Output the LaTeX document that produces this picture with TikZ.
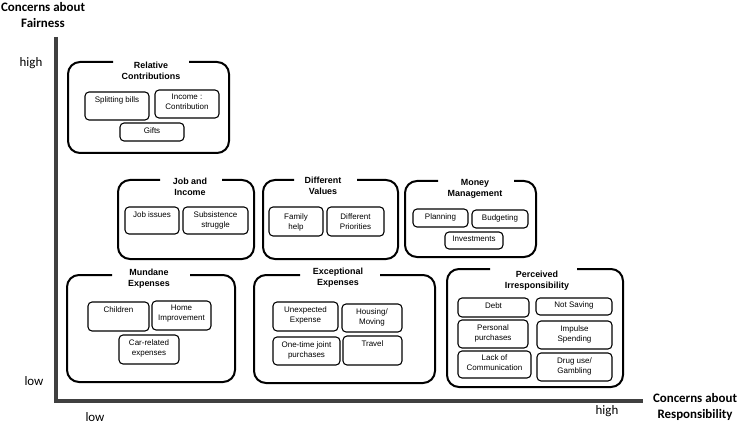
\documentclass[tikz,border=0pt]{standalone}
\usepackage{fontspec}
\setmainfont{Liberation Sans}
\newfontfamily\axisfont{Carlito}
\usetikzlibrary{positioning,calc}

\definecolor{axisgray}{gray}{0.25}

\begin{document}
\begin{tikzpicture}[x=0.75pt,y=-0.75pt,
    group/.style={line width=1.5pt,rounded corners=9pt},
    ibox/.style={line width=0.8pt,rounded corners=3pt},
    gtitle/.style={align=center,font=\bfseries\fontsize{6.7}{8.2}\selectfont,inner sep=0pt},
    itxt/.style={anchor=north,align=center,font=\fontsize{6}{7.5}\selectfont,inner sep=3pt},
    axlabel/.style={align=center,font=\axisfont\bfseries\fontsize{9.7}{12}\selectfont,inner sep=0pt},
    tick/.style={font=\axisfont\fontsize{9.7}{12}\selectfont,inner sep=0pt}]

    \useasboundingbox (0,0) rectangle (742,424);

    % axes
    \coordinate (O) at (56,401);
    \coordinate (Ytop) at (56,37);
    \coordinate (Xend) at (643,401);
    \draw[line width=3pt,axisgray,line join=miter] (Ytop) -- (O) -- (Xend);

    \node[axlabel] (fairness) at (43,15) {Concerns about\\Fairness};
    \node[axlabel] (resp) at (695,407) {Concerns about\\Responsibility};
    \node[tick] (yhigh) at (31,63) {high};
    \node[tick] (ylow) at (34,381) {low};
    \node[tick] (xlow) at (95,417) {low};
    \node[tick] (xhigh) at (607,411) {high};

    % relative contributions
    \draw[group] (113,62) -- (68,62) -- (68,153) -- (229,153) -- (229,62) -- (189,62);
    \node[gtitle] (relT) at (151,71) {Relative\\Contributions};
    \draw[ibox] (85,92) rectangle (149,120);
    \node[itxt] (split) at (117,92) {Splitting bills};
    \draw[ibox] (155,90) rectangle (219,118);
    \node[itxt] (income) at (187,90) {Income :\\Contribution};
    \draw[ibox] (120,123) rectangle (184,141);
    \node[itxt] (gifts) at (152,123) {Gifts};

    % job and income
    \draw[group] (160,180) -- (118,180) -- (118,259) -- (254,259) -- (254,180) -- (222,180);
    \node[gtitle] (jobT) at (190,186.5) {Job and\\Income};
    \draw[ibox] (125,207) rectangle (179,234);
    \node[itxt] (jobiss) at (152,207) {Job issues};
    \draw[ibox] (183,207) rectangle (248,234);
    \node[itxt] (subs) at (215.5,207) {Subsistence\\struggle};

    % different values
    \draw[group] (294,180) -- (263,180) -- (263,259) -- (398,259) -- (398,180) -- (357,180);
    \node[gtitle] (valT) at (323,186) {Different\\Values};
    \draw[ibox] (269,207) rectangle (323,236);
    \node[itxt] (family) at (296,209) {Family\\help};
    \draw[ibox] (327,207) rectangle (384,236);
    \node[itxt] (prior) at (355.5,209) {Different\\Priorities};

    % money management
    \draw[group] (438,181) -- (405,181) -- (405,257) -- (536,257) -- (536,181) -- (514,181);
    \node[gtitle] (monT) at (475,188.5) {Money\\Management};
    \draw[ibox] (413,209) rectangle (468,227);
    \node[itxt] (plan) at (440.5,209) {Planning};
    \draw[ibox] (472,210) rectangle (528,228);
    \node[itxt] (budget) at (500,210) {Budgeting};
    \draw[ibox] (445,232) rectangle (503,249);
    \node[itxt] (invest) at (474,232) {Investments};

    % mundane expenses
    \draw[group] (112,275) -- (67,275) -- (67,382) -- (235,382) -- (235,275) -- (190,275);
    \node[gtitle] (munT) at (149,278.5) {Mundane\\Expenses};
    \draw[ibox] (88,302) rectangle (149,331);
    \node[itxt] (child) at (118.5,302) {Children};
    \draw[ibox] (152,301) rectangle (211,330);
    \node[itxt] (home) at (181.5,301) {Home\\Improvement};
    \draw[ibox] (119,335) rectangle (179,364);
    \node[itxt] (car) at (149,335) {Car-related\\expenses};

    % exceptional expenses
    \draw[group] (300,275) -- (254,275) -- (254,383) -- (435,383) -- (435,275) -- (380,275);
    \node[gtitle] (excT) at (338,278) {Exceptional\\Expenses};
    \draw[ibox] (273,302) rectangle (338,331);
    \node[itxt] (unexp) at (305.5,302) {Unexpected\\Expense};
    \draw[ibox] (342,304) rectangle (402,332);
    \node[itxt] (housing) at (372,304) {Housing/\\Moving};
    \draw[ibox] (273,337) rectangle (340,365);
    \node[itxt] (onetime) at (306.5,337) {One-time joint\\purchases};
    \draw[ibox] (343,336) rectangle (402,365);
    \node[itxt] (travel) at (372.5,336) {Travel};

    % perceived irresponsibility
    \draw[group] (490,269) -- (447,269) -- (447,387) -- (623,387) -- (623,269) -- (577,269);
    \node[gtitle] (irrT) at (537,281) {Perceived\\Irresponsibility};
    \draw[ibox] (458,298) rectangle (529,317);
    \node[itxt] (debt) at (493.5,298) {Debt};
    \draw[ibox] (536,298) rectangle (612,315);
    \node[itxt] (saving) at (574,297) {Not Saving};
    \draw[ibox] (458,320) rectangle (528,348);
    \node[itxt] (personal) at (493,320) {Personal\\purchases};
    \draw[ibox] (537,321) rectangle (612,349);
    \node[itxt] (impulse) at (574.5,321) {Impulse\\Spending};
    \draw[ibox] (458,351) rectangle (531,378);
    \node[itxt] (lack) at (494.5,350) {Lack of\\Communication};
    \draw[ibox] (537,353) rectangle (612,381);
    \node[itxt] (drug) at (574.5,353) {Drug use/\\Gambling};
\end{tikzpicture}
\end{document}
